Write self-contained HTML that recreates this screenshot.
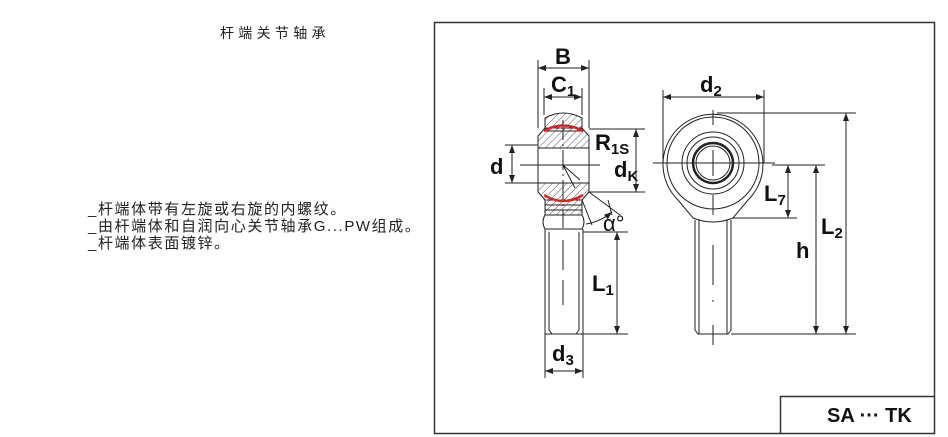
<!DOCTYPE html>
<html><head><meta charset="utf-8"><style>
body{margin:0;background:#fff;width:948px;height:437px;overflow:hidden}
.t{position:absolute;font-family:"Liberation Sans","Noto Sans CJK SC",sans-serif;color:#222}
</style></head><body>
<div class="t" style="left:220px;top:23px;font-size:14px;letter-spacing:4.3px">杆端关节轴承</div>
<div class="t" style="left:88px;top:201px;font-size:15px;line-height:17px;letter-spacing:1.6px">_杆端体带有左旋或右旋的内螺纹。<br>_由杆端体和自润向心关节轴承G...PW组成。<br>_杆端体表面镀锌。</div>
<svg width="948" height="437" style="position:absolute;left:0;top:0" font-family="Liberation Sans,Arial,sans-serif">
<defs>
<pattern id="h" width="5" height="5" patternUnits="userSpaceOnUse" patternTransform="rotate(45)"><line x1="0" y1="0" x2="0" y2="5" stroke="#555" stroke-width="1"/></pattern>
<marker id="a" markerWidth="8" markerHeight="6" refX="8" refY="3" orient="auto-start-reverse"><path d="M0,0 L8,3 L0,6 z" fill="#222"/></marker>
</defs>
<rect x="434.5" y="22.5" width="500" height="411" fill="none" stroke="#333" stroke-width="1.5"/>
<path d="M780.5,433 V396.5 H934" fill="none" stroke="#333" stroke-width="1.5"/>
<text x="827" y="422" font-size="20" font-weight="bold" fill="#111">SA ··· TK</text>
<g stroke="#222" stroke-width="1" fill="none">
<path d="M545,118 Q563,108 582,118 L582,131 L545,131 Z" fill="url(#h)"/>
<path d="M538,136 L545,128 L582,128 L589,136 L589,148 L538,148 Z" fill="url(#h)"/>
<rect x="538" y="148" width="51" height="35"/>
<path d="M538,183 L589,183 L589,192 L582,200 L545,200 L538,192 Z" fill="url(#h)"/>
<path d="M545,200 L582,200 L582,215 L545,215 Z" fill="url(#h)"/>
<path d="M545,205 H582 M545,210 H582"/>
<path d="M545,215 Q541,222 545,229 L582,229 Q586,222 582,215"/>
<path d="M545,229 V334 H583 V229 M549,232 V330 L552,334 M579,232 V330 L576,334"/>
<path d="M563,280 V305 M563,240 V270"/>
<path d="M563,120 V228" stroke-dasharray="20 4 2 4"/>
<path d="M548,165 L563,165 L575,188 L563,165 L580,180" />
<path d="M520,165 H600"/>
<line x1="538" y1="68" x2="589" y2="68" marker-start="url(#a)" marker-end="url(#a)"/>
<path d="M538,60 V128 M589,60 V128"/>
<path d="M544,115 V88 M582,115 V88"/>
<line x1="544" y1="97" x2="582" y2="97" marker-start="url(#a)" marker-end="url(#a)"/>
<path d="M505,145 H538 M505,183 H538"/>
<line x1="512" y1="145" x2="512" y2="183" marker-start="url(#a)" marker-end="url(#a)"/>
<path d="M589,129 H645 M589,192 H645"/>
<line x1="636" y1="129" x2="636" y2="192" marker-start="url(#a)" marker-end="url(#a)"/>
<path d="M589,192 L620,215 M582,200 L592,225 M608,200 L612,215"/>
<path d="M586,224 Q600,222 612,212" marker-end="url(#a)"/>
<path d="M583,232 H628 M583,334 H628"/>
<line x1="617" y1="232" x2="617" y2="334" marker-start="url(#a)" marker-end="url(#a)"/>
<path d="M545,334 V378 M583,334 V378"/>
<line x1="545" y1="371" x2="583" y2="371" marker-start="url(#a)" marker-end="url(#a)"/>
<path d="M678,200 A50,50 0 1 1 748,200 L733,218 Q713,226 693,218 Z"/>
<circle cx="713" cy="163" r="46"/>
<circle cx="713" cy="163" r="31"/>
<circle cx="713" cy="163" r="26"/>
<circle cx="713" cy="163" r="20" stroke-width="2.5"/>
<circle cx="713" cy="163" r="17"/>
<path d="M695,220 V330 L698,334 H728 L731,330 V220 M699,220 V334 M727,220 V334"/>
<path d="M713,110 V125 M713,150 V176 M713,195 V215 M713,245 V285 M713,300 V302 M713,325 V345"/>
<path d="M653,163 H775"/>
<path d="M663,163 V90 M764,163 V90"/>
<line x1="663" y1="97" x2="764" y2="97" marker-start="url(#a)" marker-end="url(#a)"/>
<path d="M717,113 H856 M731,334 H856 M772,165 H825 M733,218 H797"/>
<line x1="788" y1="165" x2="788" y2="218" marker-start="url(#a)" marker-end="url(#a)"/>
<line x1="816" y1="165" x2="816" y2="334" marker-start="url(#a)" marker-end="url(#a)"/>
<line x1="846" y1="113" x2="846" y2="334" marker-start="url(#a)" marker-end="url(#a)"/>
</g>
<path d="M544,131 Q563,120 583,131 M544,195 Q563,207 583,195" stroke="#d22" stroke-width="2.5" fill="none"/>
<g fill="#111" font-size="22" font-weight="bold">
<text x="555" y="64">B</text>
<text x="551" y="92">C<tspan font-size="15" dy="4">1</tspan></text>
<text x="490" y="174">d</text>
<text x="595" y="150">R<tspan font-size="15" dy="4">1S</tspan></text>
<text x="614" y="177">d<tspan font-size="15" dy="4">K</tspan></text>
<text x="603" y="231" font-weight="normal">α°</text>
<text x="592" y="291">L<tspan font-size="15" dy="4">1</tspan></text>
<text x="552" y="361">d<tspan font-size="15" dy="4">3</tspan></text>
<text x="700" y="92">d<tspan font-size="15" dy="4">2</tspan></text>
<text x="764" y="201">L<tspan font-size="15" dy="4">7</tspan></text>
<text x="796" y="258">h</text>
<text x="821" y="234">L<tspan font-size="15" dy="4">2</tspan></text>
</g>
</svg>
</body></html>
